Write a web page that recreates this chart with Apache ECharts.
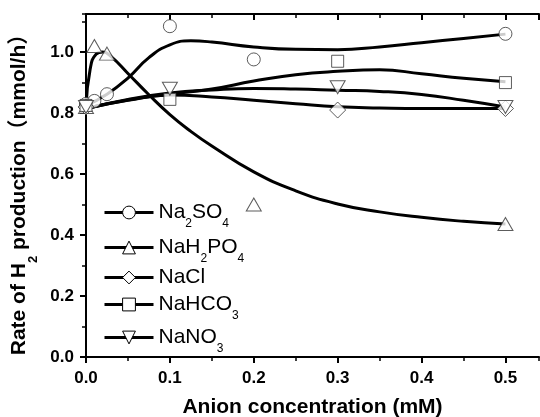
<!DOCTYPE html>
<html>
<head>
<meta charset="utf-8">
<script src="https://cdn.jsdelivr.net/npm/echarts@6/dist/echarts.min.js"></script>
<style>
html, body { margin: 0; padding: 0; background: #fff; }
#chart { width: 540px; height: 417px; }
</style>
</head>
<body>
<div id="chart"></div>
<script>
// measured points (x = anion concentration mM, y = rate mmol/h)
const na2so4Pts = [[0, 0.83], [0.01, 0.84], [0.025, 0.862], [0.1, 1.085], [0.2, 0.976], [0.5, 1.06]];
const nah2po4Pts = [[0, 0.82], [0.01, 1.02], [0.025, 0.995], [0.2, 0.5], [0.5, 0.436]];
const naclPts = [[0, 0.82], [0.3, 0.81], [0.5, 0.815]];
const nahco3Pts = [[0, 0.825], [0.1, 0.845], [0.3, 0.97], [0.5, 0.9]];
const nano3Pts = [[0, 0.82], [0.1, 0.88], [0.3, 0.885], [0.5, 0.82]];

// fitted curves
const na2so4Fit = [[0, 0.825], [0.025, 0.862], [0.05, 0.915], [0.075, 0.982], [0.1, 1.024], [0.125, 1.037],
  [0.15, 1.033], [0.2, 1.017], [0.25, 1.009], [0.3, 1.008], [0.35, 1.017], [0.4, 1.031], [0.45, 1.045], [0.5, 1.059]];
const nah2po4Fit = [[0, 0.82], [0.005, 0.945], [0.012, 0.993], [0.02, 1.0], [0.03, 0.985], [0.05, 0.93],
  [0.075, 0.86], [0.1, 0.795], [0.125, 0.74], [0.15, 0.692], [0.2, 0.607], [0.25, 0.545], [0.3, 0.502],
  [0.35, 0.476], [0.4, 0.458], [0.45, 0.445], [0.5, 0.436]];
const naclFit = [[0, 0.815], [0.05, 0.842], [0.1, 0.859], [0.15, 0.853], [0.2, 0.842], [0.25, 0.831],
  [0.3, 0.821], [0.35, 0.817], [0.4, 0.815], [0.45, 0.815], [0.5, 0.815]];
const nahco3Fit = [[0, 0.815], [0.05, 0.843], [0.1, 0.862], [0.15, 0.879], [0.2, 0.905], [0.25, 0.926],
  [0.3, 0.937], [0.35, 0.942], [0.4, 0.929], [0.45, 0.914], [0.5, 0.903]];
const nano3Fit = [[0, 0.815], [0.05, 0.845], [0.1, 0.866], [0.15, 0.876], [0.2, 0.881], [0.25, 0.879],
  [0.3, 0.875], [0.35, 0.871], [0.4, 0.861], [0.45, 0.842], [0.5, 0.82]];

const names = ['Na2SO4', 'NaH2PO4', 'NaCl', 'NaHCO3', 'NaNO3'];
const legendLabels = ['{n|Na}{s|2}{n|SO}{s|4}', '{n|NaH}{s|2}{n|PO}{s|4}', '{n|NaCl}', '{n|NaHCO}{s|3}', '{n|NaNO}{s|3}'];
const yTitle = '{t|Rate of H}{s|2}{t| production（mmol/h）}';
const xTitle = 'Anion concentration (mM)';

const downTri = 'path://M0,0L20,0L10,17Z';
const symbols = ['circle', 'triangle', 'diamond', 'rect', downTri];
const symbolSizes = [13, [15, 13], [16, 16], 12, [15, 13]];
const fits = [na2so4Fit, nah2po4Fit, naclFit, nahco3Fit, nano3Fit];
const points = [na2so4Pts, nah2po4Pts, naclPts, nahco3Pts, nano3Pts];
const legendRows = [211.5, 246.5, 276.5, 303.5, 336.5];

const font = 'Liberation Sans, Arial, Noto Sans CJK SC, sans-serif';

let chart = echarts.init(document.getElementById('chart'));

function xAxisCfg(pos, interval, len, main) {
  return {
    type: 'value', position: pos, min: 0, max: 0.54, interval: interval,
    axisLine: { show: main, onZero: false, lineStyle: { color: '#000', width: 2 } },
    axisTick: { show: true, inside: pos === 'top', length: len, lineStyle: { color: '#000', width: main ? 2 : 1.5 } },
    axisLabel: { show: main && pos === 'bottom', showMaxLabel: false, margin: 13, color: '#000',
      fontFamily: font, fontSize: 17, fontWeight: 'bold', formatter: v => v.toFixed(1) },
    splitLine: { show: false },
    name: main && pos === 'bottom' ? xTitle : '', nameLocation: 'middle', nameGap: 40,
    nameTextStyle: { fontFamily: font, fontSize: 21, fontWeight: 'bold', color: '#000' }
  };
}

function yAxisCfg(interval, len, main) {
  return {
    type: 'value', position: 'left', min: 0, max: 1.125, interval: interval,
    axisLine: { show: main, onZero: false, lineStyle: { color: '#000', width: 2 } },
    axisTick: { show: true, length: len, lineStyle: { color: '#000', width: main ? 2 : 1.5 } },
    axisLabel: { show: main, showMaxLabel: false, margin: 12, color: '#000',
      fontFamily: font, fontSize: 17, fontWeight: 'bold', formatter: v => v.toFixed(1) },
    splitLine: { show: false },
    name: main ? yTitle : '', nameLocation: 'middle', nameRotate: 90, nameGap: 30,
    nameTextStyle: {
      fontFamily: font, color: '#000', padding: [0, 8, 0, 0],
      rich: {
        t: { fontFamily: font, fontSize: 21, fontWeight: 'bold', lineHeight: 41, color: '#000' },
        s: { fontFamily: font, fontSize: 13, fontWeight: 'bold', lineHeight: 13, verticalAlign: 'bottom', color: '#000' }
      }
    }
  };
}

let series = [];
names.forEach((n, i) => {
  series.push({
    name: n, type: 'line', data: fits[i], smooth: 0.5,
    showSymbol: false, symbol: symbols[i], symbolSize: symbolSizes[i],
    lineStyle: { color: '#000', width: 3 },
    itemStyle: { color: '#fff', borderColor: '#000', borderWidth: 1 },
    z: 2, silent: true
  });
});
names.forEach((n, i) => {
  series.push({
    name: n, type: 'scatter', data: points[i], symbol: symbols[i], symbolSize: symbolSizes[i],
    itemStyle: { color: '#fff', borderColor: '#333', borderWidth: 1 },
    z: 3, silent: true
  });
});

let option = {
  animation: false,
  backgroundColor: '#fff',
  grid: { left: 86, right: 1, top: 14, bottom: 60, containLabel: false, outerBoundsMode: 'none' },
  xAxis: [
    xAxisCfg('bottom', 0.1, 6, true),
    xAxisCfg('bottom', 0.05, 4, false),
    xAxisCfg('top', 0.1, 6, true),
    xAxisCfg('top', 0.05, 4, false)
  ],
  yAxis: [
    yAxisCfg(0.2, 6, true),
    yAxisCfg(0.1, 4, false)
  ],
  legend: names.map((n, i) => ({
    data: [n], orient: 'vertical', left: 103, top: legendRows[i] - 9.5, padding: 0,
    itemWidth: 49, itemHeight: 16, itemGap: 0, selectedMode: false,
    lineStyle: { color: '#000', width: 3 },
    itemStyle: { color: '#fff', borderColor: '#000', borderWidth: 1 },
    formatter: () => legendLabels[i],
    textStyle: {
      color: '#000', fontFamily: font,
      rich: {
        n: { fontFamily: font, fontSize: 21, lineHeight: 35, color: '#000' },
        s: { fontFamily: font, fontSize: 12, lineHeight: 12, verticalAlign: 'bottom', color: '#000' }
      }
    }
  })),
  series: series
};

option && chart.setOption(option);
</script>
</body>
</html>
